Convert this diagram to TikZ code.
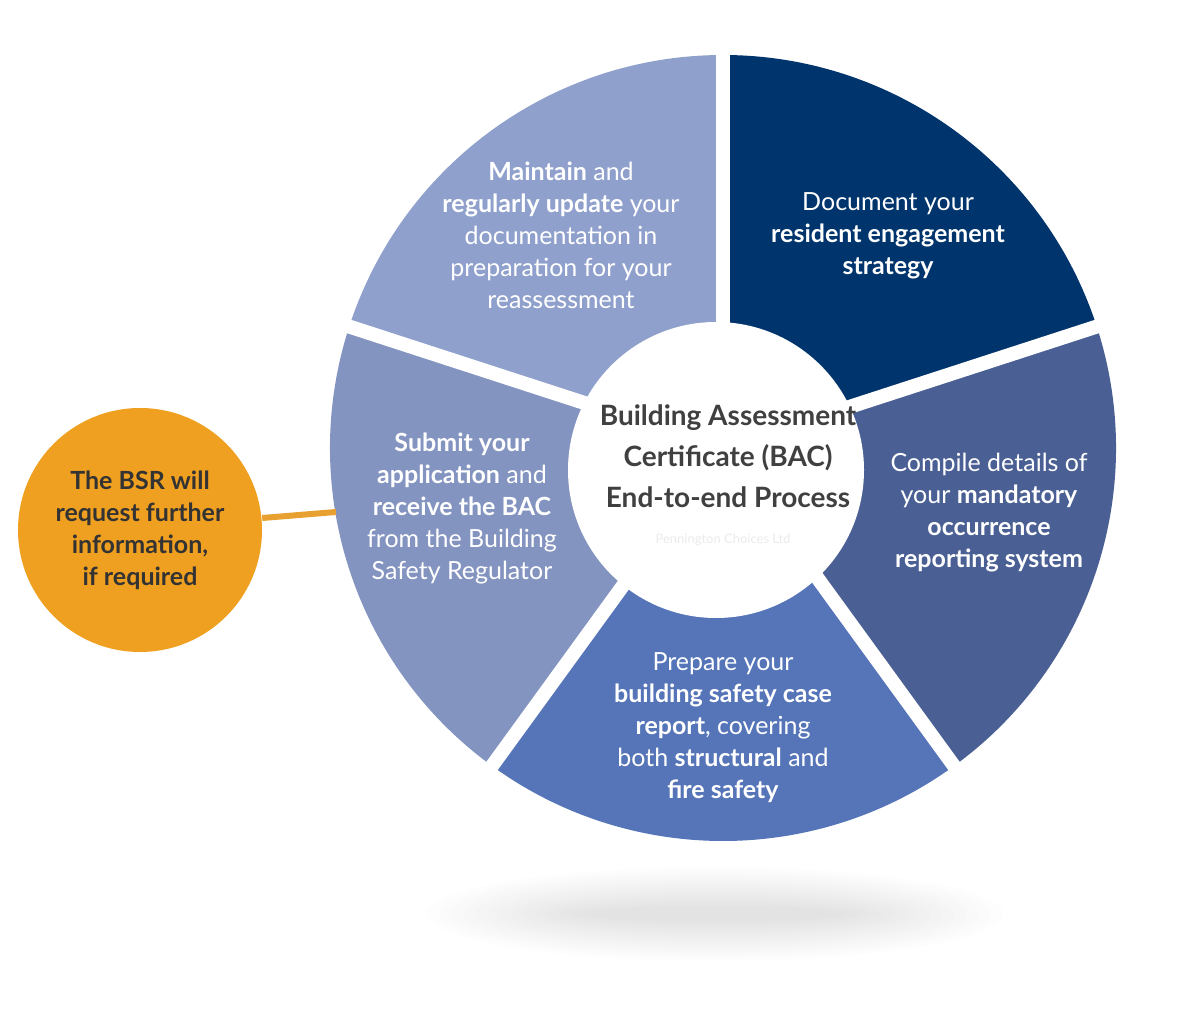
\documentclass[tikz,border=0pt]{standalone}
\usepackage{fontspec}
\setmainfont{Lato}
\usetikzlibrary{positioning}
\definecolor{navy}{HTML}{00346C}
\definecolor{slate}{HTML}{4A5F94}
\definecolor{cobalt}{HTML}{5575B8}
\definecolor{lilac}{HTML}{8494C0}
\definecolor{haze}{HTML}{8FA0CC}
\definecolor{amber}{HTML}{F0A020}
\definecolor{amberline}{HTML}{E8A030}
\newcommand{\piewedge}[3]{\fill[#1] (C) -- ++(#2:393) arc (#2:#3:393) -- cycle}
\newcommand{\piegap}[1]{\draw[white,line width=14pt] (C) -- ++(#1:400)}
\tikzset{
  seg/.style={text=white,align=center,font=\fontsize{25}{32}\selectfont},
  hub/.style={circle,fill=white,minimum size=296pt,inner sep=0pt},
}
\begin{document}
\begin{tikzpicture}[x=1pt,y=1pt]
\useasboundingbox (0,0) rectangle (1199,1029);
\coordinate (C) at (723,581);

% shadow
\foreach \i in {1,...,14}
  \fill[black,opacity=0.006] (715,115) ellipse ({300-12*\i} and {50-3*\i});

% pie
\piewedge{navy}{18}{90};
\piewedge{slate}{-54}{18};
\piewedge{cobalt}{-126}{-54};
\piewedge{lilac}{162}{234};
\piewedge{haze}{90}{162};
\foreach \a in {90,18,-54,-126,162}
  \piegap{\a};
\node[hub] (hub) at (716,559) {};
\node[align=center,text=black!75,font=\bfseries\fontsize{28}{41}\selectfont] (title) at (728,573)
  {Building Assessment\\Certificate (BAC)\\End-to-end Process};
\node[text=black!8,font=\fontsize{13}{14}\selectfont] (mark) at (723,489) {Pennington Choices Ltd};

% segment texts
\node[seg] (maintain) at (561,794) {\textbf{Maintain} and\\\textbf{regularly update} your\\documentation in\\preparation for your\\reassessment};
\node[seg] (document) at (888,793) {Document your\\\textbf{resident engagement}\\\textbf{strategy}};
\node[seg] (compile) at (989,516) {Compile details of\\your \textbf{mandatory}\\\textbf{occurrence}\\\textbf{reporting system}};
\node[seg] (prepare) at (723,301) {Prepare your\\\textbf{building safety case}\\\textbf{report}, covering\\both \textbf{structural} and\\\textbf{fire safety}};
\node[seg] (submit) at (462,521) {\textbf{Submit your}\\\textbf{application} and\\\textbf{receive the BAC}\\from the Building\\Safety Regulator};

% BSR note
\coordinate (edge) at (336,517);
\node[circle,fill=amber,minimum size=244pt,inner sep=0pt] (bsr) at (140,499) {};
\draw[amberline,line width=6pt] (bsr.east) ++(0,12) -- (edge);
\node[align=center,text=black!80,font=\bfseries\fontsize{25}{32}\selectfont] (bsrtext) at (bsr) {The BSR will\\request further\\information,\\if required};
\end{tikzpicture}
\end{document}
